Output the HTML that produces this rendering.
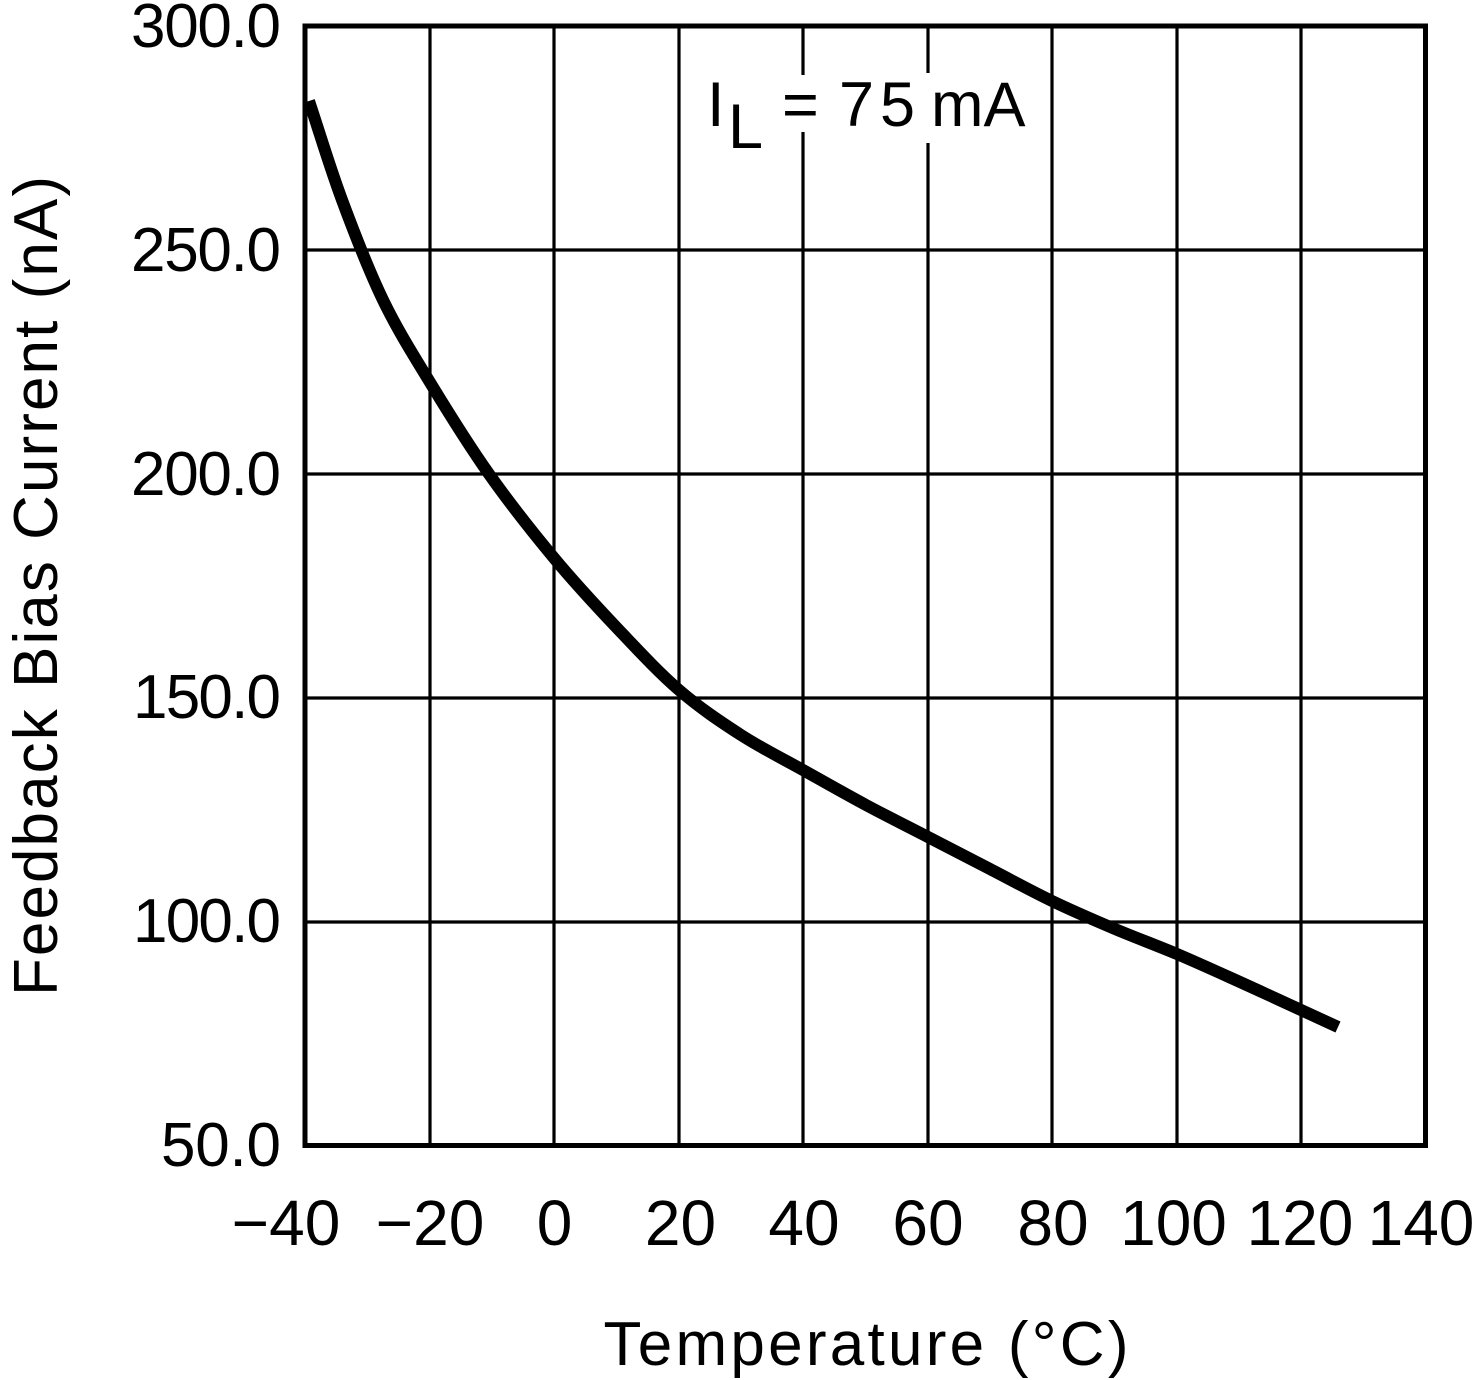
<!DOCTYPE html>
<html>
<head>
<meta charset="utf-8">
<style>
  html, body { margin: 0; padding: 0; background: #ffffff; }
  svg { display: block; }
  text { font-family: "Liberation Sans", "DejaVu Sans", sans-serif; fill: #000; }
</style>
</head>
<body>
<svg width="1474" height="1380" viewBox="0 0 1474 1380" xmlns="http://www.w3.org/2000/svg">
  <rect x="0" y="0" width="1474" height="1380" fill="#ffffff"/>

  <!-- grid lines -->
  <g stroke="#000" stroke-width="3.2" fill="none">
    <line x1="430" y1="26" x2="430" y2="1145"/>
    <line x1="554" y1="26" x2="554" y2="1145"/>
    <line x1="679" y1="26" x2="679" y2="1145"/>
    <line x1="803" y1="26" x2="803" y2="1145"/>
    <line x1="928" y1="26" x2="928" y2="1145"/>
    <line x1="1052" y1="26" x2="1052" y2="1145"/>
    <line x1="1177" y1="26" x2="1177" y2="1145"/>
    <line x1="1301" y1="26" x2="1301" y2="1145"/>
    <line x1="305" y1="250" x2="1425" y2="250"/>
    <line x1="305" y1="474" x2="1425" y2="474"/>
    <line x1="305" y1="698" x2="1425" y2="698"/>
    <line x1="305" y1="922" x2="1425" y2="922"/>
  </g>

  <!-- annotation background -->
  <rect x="780" y="75" width="40" height="57" fill="#ffffff"/>
  <rect x="835" y="73" width="190" height="70" fill="#ffffff"/>

  <!-- frame -->
  <rect x="305" y="26" width="1120.5" height="1119.5" fill="none" stroke="#000" stroke-width="5"/>

  <!-- curve -->
  <path fill="none" stroke="#000" stroke-width="12" stroke-linecap="butt" stroke-linejoin="round"
    d="M309,101
       C320,134 329.67,166.83 342,200
       C354.33,233.17 368.17,269.33 383,300
       C397.83,330.67 413.33,355 431,384
       C448.67,413 468.5,445 489,474
       C509.5,503 532.67,532.33 554,558
       C575.33,583.67 596.17,606 617,628
       C637.83,650 658.33,672.17 679,690
       C699.67,707.83 720.33,721.67 741,735
       C761.67,748.33 782.17,758.33 803,770
       C823.83,781.67 845.17,793.83 866,805
       C886.83,816.17 907.33,826.33 928,837
       C948.67,847.67 969.33,858.33 990,869
       C1010.67,879.67 1031.17,891 1052,901
       C1072.83,911 1094.17,920.17 1115,929
       C1135.83,937.83 1156.17,945.17 1177,954
       C1197.83,962.83 1219.33,972.67 1240,982
       C1260.67,991.33 1284.67,1002.5 1301,1010
       C1317.33,1017.5 1325.67,1021.33 1338,1027"/>

  <!-- annotation -->
  <text x="707" y="126" font-size="63">I</text>
  <text x="728" y="148" font-size="63">L</text>
  <text x="782" y="126" font-size="63">=</text>
  <text x="839" y="126" font-size="63">7</text>
  <text x="880" y="126" font-size="63">5</text>
  <text x="931" y="126" font-size="63">mA</text>

  <!-- y tick labels -->
  <g font-size="62" text-anchor="end">
    <text x="281" y="47" textLength="150">300.0</text>
    <text x="281" y="271" textLength="150">250.0</text>
    <text x="281" y="495" textLength="150">200.0</text>
    <text x="281" y="718" textLength="148">150.0</text>
    <text x="281" y="942" textLength="148">100.0</text>
    <text x="281" y="1166" textLength="120">50.0</text>
  </g>

  <!-- x tick labels -->
  <g font-size="64" text-anchor="middle">
    <text x="286" y="1245">−40</text>
    <text x="430" y="1245">−20</text>
    <text x="554.5" y="1245">0</text>
    <text x="680.5" y="1245">20</text>
    <text x="804" y="1245">40</text>
    <text x="928" y="1245">60</text>
    <text x="1053" y="1245">80</text>
    <text x="1173.5" y="1245">100</text>
    <text x="1300" y="1245">120</text>
    <text x="1421" y="1245">140</text>
  </g>

  <!-- axis titles -->
  <text x="866" y="1365" font-size="62" text-anchor="middle" textLength="525">Temperature (°C)</text>
  <text transform="translate(57,586) rotate(-90)" font-size="62" text-anchor="middle" textLength="820">Feedback Bias Current (nA)</text>
</svg>
</body>
</html>
